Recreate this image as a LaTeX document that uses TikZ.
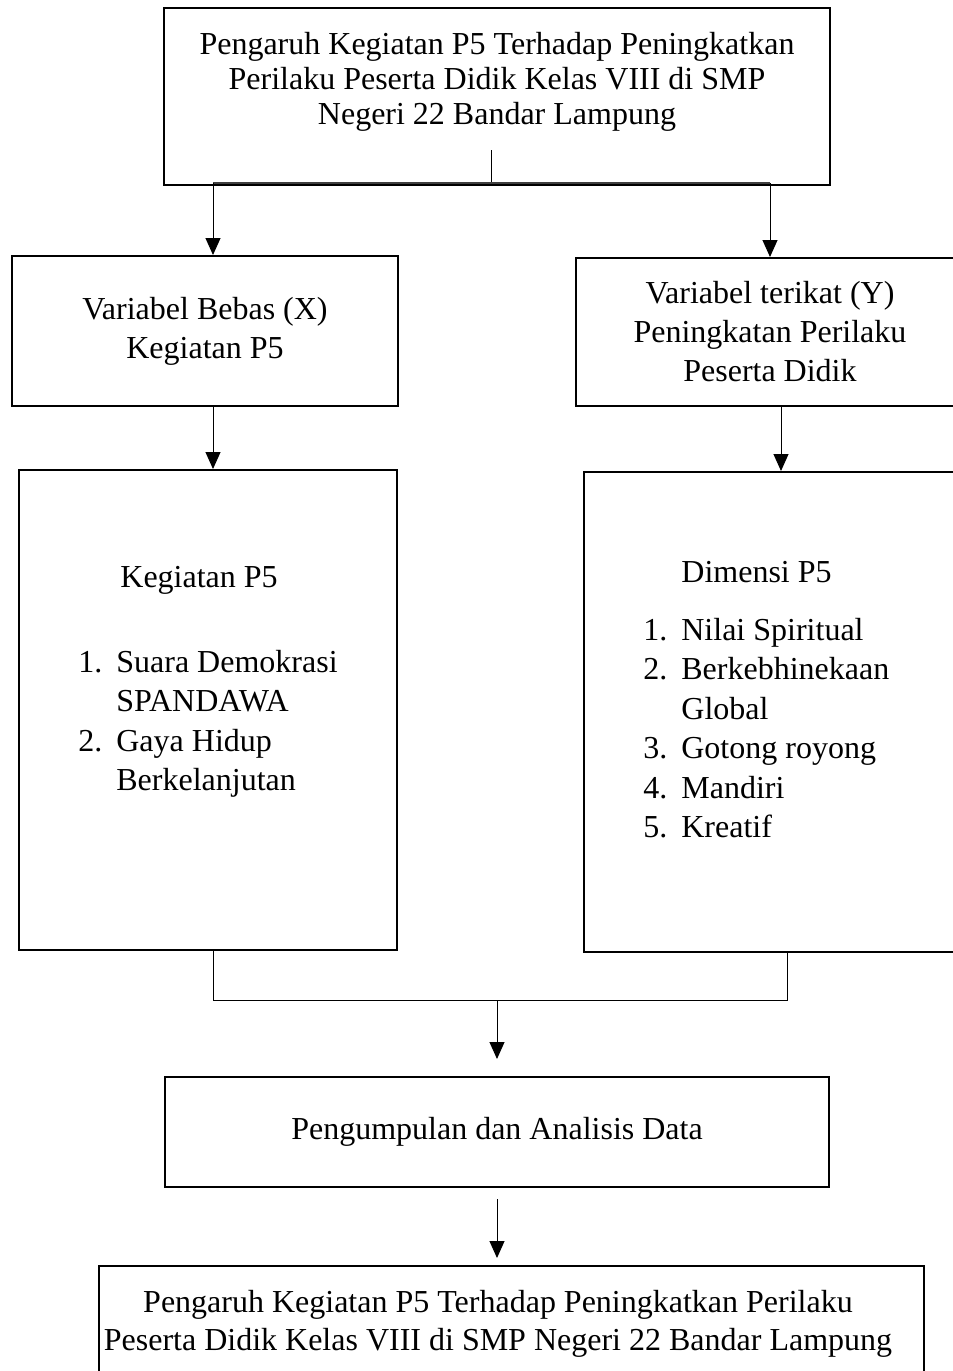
\documentclass[tikz,border=0pt]{standalone}
\usepackage{fontspec}
\setmainfont{Liberation Serif}
\usetikzlibrary{arrows.meta}

\tikzset{
  kasten/.style={draw, line width=1pt, inner sep=0pt, align=center,
    font=\fontsize{16}{19.5}\selectfont},
  teks/.style={inner sep=0pt, font=\fontsize{16}{19}\selectfont},
  liste/.style={inner sep=0pt, font=\fontsize{16}{19.75}\selectfont},
  garis/.style={line width=0.5pt},
  panah/.style={line width=0.5pt, -{Triangle[width=7.5pt,length=8.5pt]}}
}

\begin{document}
\begin{tikzpicture}[x=0.5pt,y=-0.5pt]
\useasboundingbox (0,0) rectangle (953,1371);

% Judul oben:
\node[kasten, minimum width=333pt, minimum height=88.5pt] (judul) at (497,96.5) {};
\node[teks, anchor=base, font=\fontsize{16}{17.5}\selectfont] (judulteks) at (497,54)
  {\begin{tabular}[t]{@{}c@{}}Pengaruh Kegiatan P5 Terhadap Peningkatkan\\
   Perilaku Peserta Didik Kelas VIII di SMP\\ Negeri 22 Bandar Lampung\end{tabular}};

% Variabel X und Y:
\node[kasten, minimum width=193pt, minimum height=75pt] (varx) at (205,331)
  {Variabel Bebas (X)\\ Kegiatan P5};
\node[kasten, minimum width=194pt, minimum height=74pt] (vary) at (770,332)
  {Variabel terikat (Y)\\ Peningkatan Perilaku\\ Peserta Didik};

% Kegiatan und Dimensi:
\node[kasten, minimum width=189pt, minimum height=240pt] (kegiatan) at (208,710) {};
\node[teks, anchor=base west] (kegiatanjudul) at (120,587) {Kegiatan P5};
\node[liste, anchor=base west] (kegiatanliste) at (78,672)
  {\begin{tabular}[t]{@{}l@{\hspace{7pt}}l@{}}1. & Suara Demokrasi\\ & SPANDAWA\\
   2. & Gaya Hidup\\ & Berkelanjutan\end{tabular}};

\node[kasten, minimum width=190pt, minimum height=240pt] (dimensi) at (774,712) {};
\node[teks, anchor=base west] (dimensijudul) at (681,582) {Dimensi P5};
\node[liste, anchor=base west] (dimensiliste) at (643,640)
  {\begin{tabular}[t]{@{}l@{\hspace{7pt}}l@{}}1. & Nilai Spiritual\\ 2. & Berkebhinekaan\\
   & Global\\ 3. & Gotong royong\\ 4. & Mandiri\\ 5. & Kreatif\end{tabular}};

% Analisis und Hasil unten:
\node[kasten, minimum width=332pt, minimum height=55pt] (analisis) at (497,1132)
  {Pengumpulan dan Analisis Data};
\node[kasten, minimum width=412.5pt, minimum height=62pt] (hasil) at (511.5,1328) {};
\node[teks, anchor=base, font=\fontsize{16}{19}\selectfont] (hasilteks) at (498,1312)
  {\begin{tabular}[t]{@{}c@{}}Pengaruh Kegiatan P5 Terhadap Peningkatkan Perilaku\\
   Peserta Didik Kelas VIII di SMP Negeri 22 Bandar Lampung\end{tabular}};

% Verbindungen:
\coordinate (cabang) at (491,150);
\coordinate (tengah) at (491,183);
\coordinate (kiri) at (213,183);
\coordinate (kanan) at (770,183);
\coordinate (kanan2) at (781,0);
\coordinate (kanan3) at (787,1000);
\coordinate (gabung) at (497,1000);
\coordinate (ujung) at (497,1258);
\draw[garis] (cabang) -- (tengah);
\draw[garis, line width=0.75pt, black!75] (kiri) -- (kanan);
\draw[panah] (kiri) -- (kiri |- varx.north);
\draw[panah] (kanan) -- (kanan |- vary.north);
\draw[panah] (varx.south -| kiri) -- (kegiatan.north -| kiri);
\draw[panah] (vary.south -| kanan2) -- (dimensi.north -| kanan2);
\draw[garis] (kegiatan.south -| kiri) -- (gabung -| kiri) -- (kanan3) -- (dimensi.south -| kanan3);
\draw[panah] (gabung) -- ([yshift=8.5pt]analisis.north);
\draw[panah] ([yshift=-5.5pt]analisis.south) -- (ujung);
\end{tikzpicture}
\end{document}
